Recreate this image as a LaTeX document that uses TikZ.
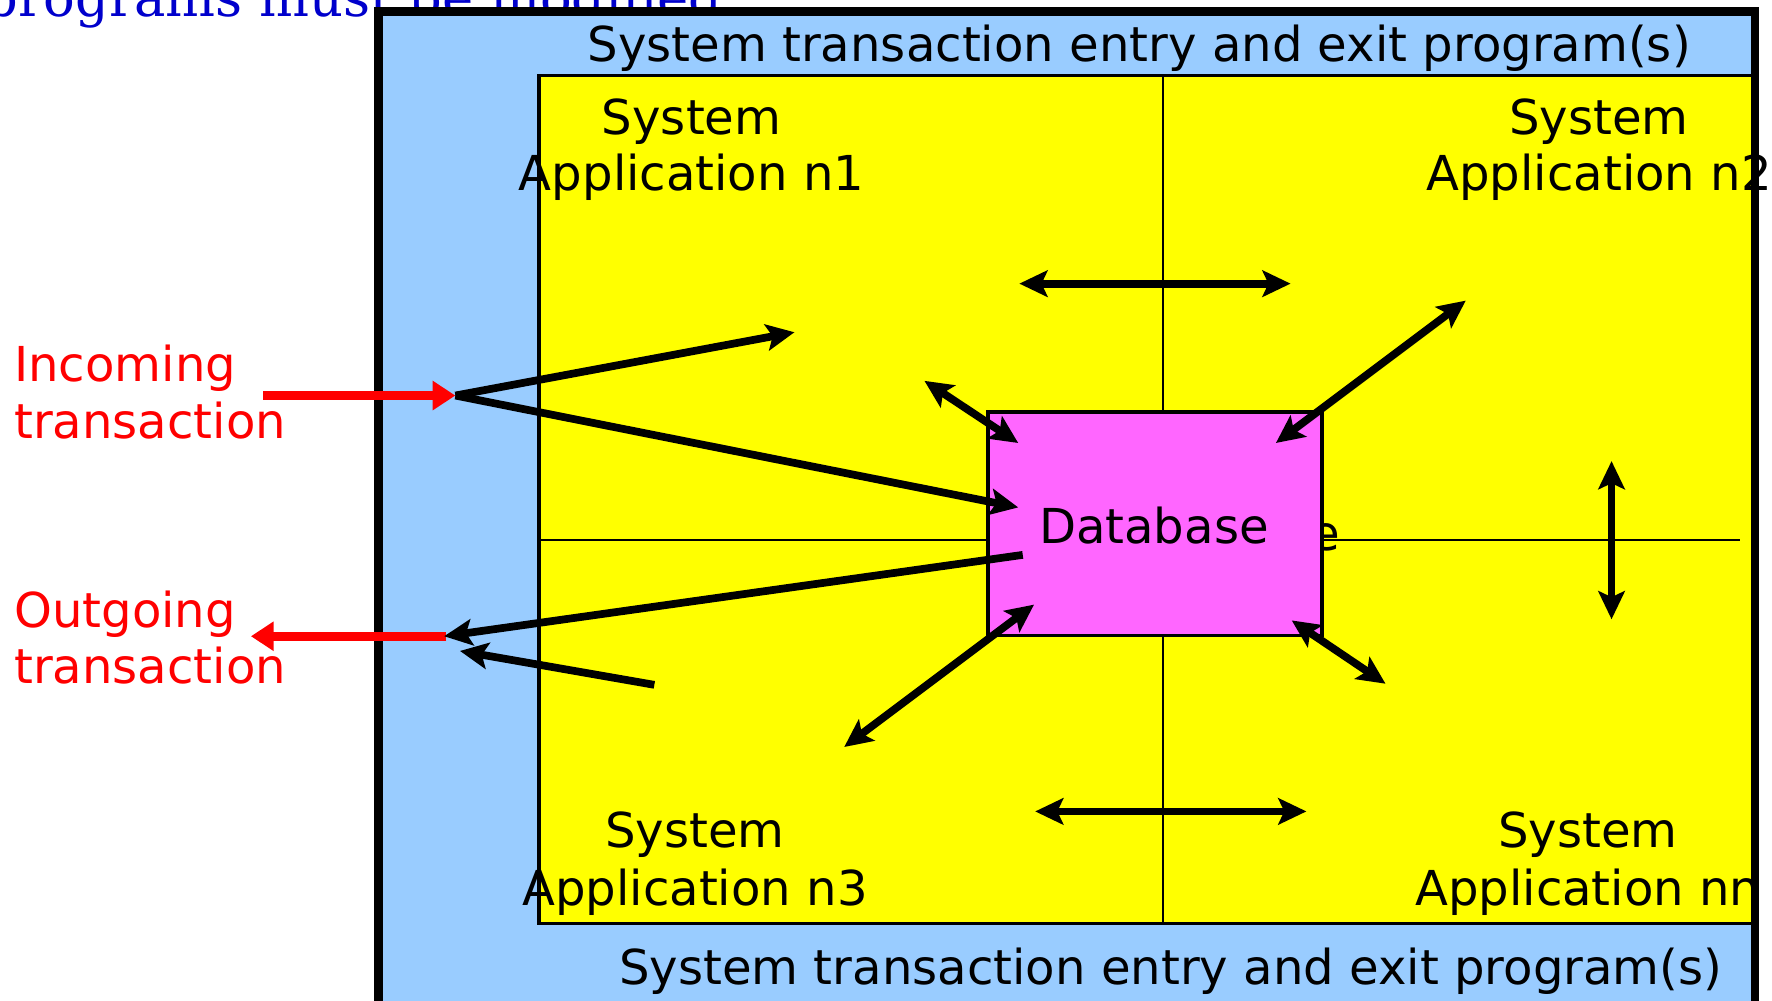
\documentclass[tikz,border=0pt]{standalone}
\usepackage{fontspec}
\setmainfont{DejaVu Sans}
\newfontfamily\notefont{DejaVu Serif}
\usetikzlibrary{arrows.meta}
\definecolor{outerblue}{HTML}{99CCFF}
\definecolor{appyellow}{HTML}{FFFF00}
\definecolor{dbmagenta}{HTML}{FF66FF}
\definecolor{txred}{HTML}{FF0000}
\definecolor{noteblue}{HTML}{0000CC}
\begin{document}
\begin{tikzpicture}[x=0.0113cm,y=-0.0113cm,
  lbl/.style={font=\fontsize{13.7}{16.4}\selectfont, inner sep=0pt, anchor=base},
  redlbl/.style={lbl, anchor=base west, text=txred},
  tipb/.tip={Stealth[length=8pt,width=7.5pt,inset=1.7pt]},
  flow/.style={line width=2.2pt, -tipb},
  both/.style={line width=2.2pt, tipb-tipb},
  redflow/.style={line width=2.6pt, draw=txred, -{Triangle[length=6.5pt,width=8pt,fill=txred]}},
  divider/.style={line width=0.7pt},
]
\useasboundingbox (0,0) rectangle (1568,885);
\clip (0,0) rectangle (1568,885);

% note text partly hidden by the outer box
\node[inner sep=0pt, anchor=base east, text=noteblue, font=\notefont\fontsize{15}{18}\selectfont] (note) at (640,15) {programs must be modified};

% outer box
\fill[outerblue] (335,10) rectangle (1553,930);
% application area
\draw[line width=1pt, fill=appyellow] (477,67) rectangle (1553,817);
\draw[line width=2.4pt] (335,930) -- (335,10) -- (1553,10) -- (1553,930);

% dividers
\coordinate (vtop) at (1029,67);
\coordinate (vbot) at (1029,817);
\coordinate (hleft) at (477,478);
\coordinate (hright) at (1540,478);
\draw[divider] (vtop) -- (vbot);
\draw[divider] (hleft) -- (hright);

% database
\node[lbl, anchor=base east] (dbhidden) at (1186,487) {Database};
\node[draw, line width=1pt, fill=dbmagenta, minimum width=3.345cm, minimum height=2.237cm, inner sep=0pt] (db) at (1022,463.5) {};
\node[lbl] (dbtext) at (1021,481) {Database};

% bar labels
\node[lbl] (topbar) at (1008,54) {System transaction entry and exit program(s)};
\node[lbl] (botbar) at (1036,871) {System transaction entry and exit program(s)};

% application labels
\node[lbl] (a1s) at (612,119) {System};
\node[lbl] (a1a) at (612,169) {Application n1};
\node[lbl] (a2s) at (1415,119) {System};
\node[lbl] (a2a) at (1415,169) {Application n2};
\node[lbl] (a3s) at (615,750) {System};
\node[lbl] (a3a) at (615,801) {Application n3};
\node[lbl] (a4s) at (1405,750) {System};
\node[lbl] (a4a) at (1405,801) {Application nn};

% transaction labels
\node[redlbl] (in1) at (12,338) {Incoming};
\node[redlbl] (in2) at (12,388) {transaction};
\node[redlbl] (out1) at (12,555) {Outgoing};
\node[redlbl] (out2) at (12,605) {transaction};

% arrow end points
\coordinate (inS) at (233,350);
\coordinate (hub) at (403,350);
\coordinate (outE) at (222,563);
\coordinate (outHub) at (395,563);
\coordinate (toA1) at (703,294);
\coordinate (toDb) at (901,449);
\coordinate (fromDb) at (905,491);
\coordinate (outTip) at (393,563);
\coordinate (fromA3) at (579,606);
\coordinate (outTip2) at (407,576);
\coordinate (a1dbA) at (818,337);
\coordinate (a1dbB) at (901,392);
\coordinate (a12A) at (902,251);
\coordinate (a12B) at (1142,251);
\coordinate (a2dbA) at (1297,266);
\coordinate (a2dbB) at (1129,392);
\coordinate (a24A) at (1426,408);
\coordinate (a24B) at (1426,548);
\coordinate (a4dbA) at (1143,549);
\coordinate (a4dbB) at (1226,605);
\coordinate (a34A) at (916,718);
\coordinate (a34B) at (1156,718);
\coordinate (a3dbA) at (915,535);
\coordinate (a3dbB) at (747,661);

% red transaction arrows
\draw[redflow] (inS) -- (hub);
\draw[redflow] (outHub) -- (outE);

% black arrows
\draw[flow] (hub) -- (toA1);
\draw[flow] (hub) -- (toDb);
\draw[flow] (fromDb) -- (outTip);
\draw[flow] (fromA3) -- (outTip2);
\draw[both] (a1dbA) -- (a1dbB);
\draw[both] (a12A) -- (a12B);
\draw[both] (a2dbA) -- (a2dbB);
\draw[both] (a24A) -- (a24B);
\draw[both] (a4dbA) -- (a4dbB);
\draw[both] (a34A) -- (a34B);
\draw[both] (a3dbA) -- (a3dbB);
\end{tikzpicture}
\end{document}
